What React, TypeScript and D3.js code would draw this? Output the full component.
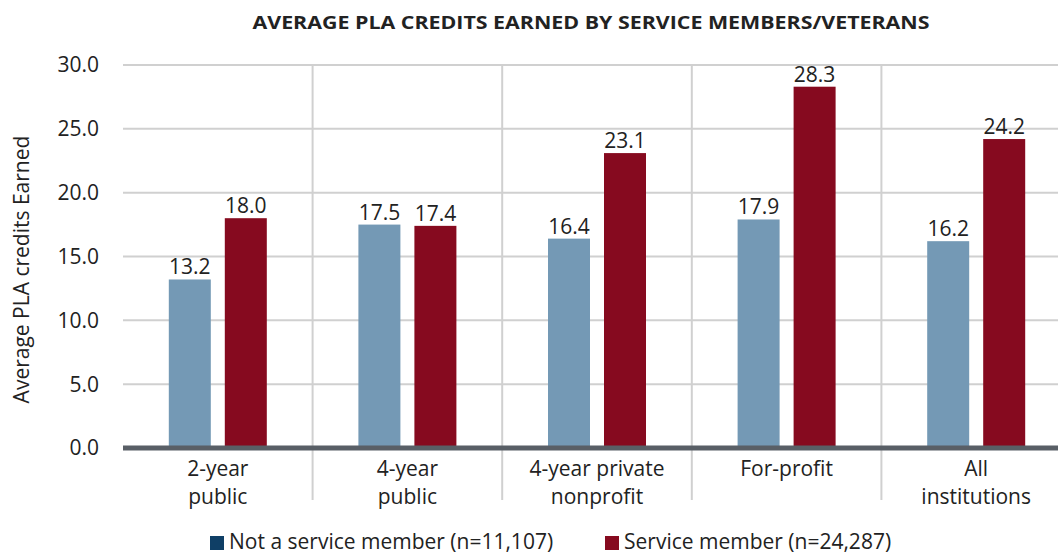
import React from "react";
import * as d3 from "d3";

const categories: string[][] = [
  ["2-year", "public"],
  ["4-year", "public"],
  ["4-year private", "nonprofit"],
  ["For-profit"],
  ["All", "institutions"],
];
const categoryKeys = categories.map((c) => c.join(" "));
const notServiceMember = [13.2, 17.5, 16.4, 17.9, 16.2];
const serviceMember = [18.0, 17.4, 23.1, 28.3, 24.2];
const seriesNames = ["Not a service member (n=11,107)", "Service member (n=24,287)"];
const yTicks = [0, 5, 10, 15, 20, 25, 30];

const W = 1058;
const H = 554;
const FONT = "'Open Sans', 'Noto Sans', sans-serif";
const FS = 21;
const BAR_COLORS = ["#7499b5", "#860a1f"];
const LEGEND_COLORS = ["#0f3f66", "#860a1f"];

export default function App() {
  const left = 123;
  const bandW = 189.6;
  const x = d3
    .scaleBand<string>()
    .domain(categoryKeys)
    .range([left, left + bandW * categoryKeys.length])
    .paddingInner(0)
    .paddingOuter(0);
  const y = d3.scaleLinear().domain([0, 30]).range([448, 65]);
  const barW = 42;
  const gap = 14;

  const series = [notServiceMember, serviceMember];

  return (
    <svg
      width={W}
      height={H}
      style={{ position: "absolute", left: 0, top: 0, background: "#fff" }}
      fontFamily={FONT}
    >
      {/* title */}
      <text
        x={591}
        y={29}
        textAnchor="middle"
        fontSize={18}
        fontWeight={700}
        fill="#222"
        textLength={677}
        lengthAdjust="spacingAndGlyphs"
      >
        AVERAGE PLA CREDITS EARNED BY SERVICE MEMBERS/VETERANS
      </text>

      {/* horizontal gridlines */}
      {yTicks.map((t) => (
        <g key={t}>
          {t > 0 && (
            <line x1={left} x2={W} y1={y(t)} y2={y(t)} stroke="#d0d0d0" strokeWidth={2} />
          )}
          <text
            x={99}
            y={y(t)}
            dy="0.35em"
            textAnchor="end"
            fontSize={FS}
            fill="#222"
          >
            {t.toFixed(1)}
          </text>
        </g>
      ))}

      {/* vertical separators */}
      {categoryKeys.slice(1).map((k) => (
        <line
          key={k}
          x1={x(k)!}
          x2={x(k)!}
          y1={y(30)}
          y2={500}
          stroke="#d0d0d0"
          strokeWidth={2}
        />
      ))}

      {/* bars */}
      {categoryKeys.map((k, i) => {
        const cx = x(k)! + x.bandwidth() / 2;
        return series.map((s, j) => {
          const bx = j === 0 ? cx - gap / 2 - barW : cx + gap / 2;
          const v = s[i];
          return (
            <g key={k + j}>
              <rect
                x={bx}
                y={y(v)}
                width={barW}
                height={y(0) - y(v)}
                fill={BAR_COLORS[j]}
              />
              <text
                x={bx + barW / 2}
                y={y(v) - 5}
                textAnchor="middle"
                fontSize={FS}
                fill="#222"
              >
                {v.toFixed(1)}
              </text>
            </g>
          );
        });
      })}

      {/* axis line */}
      <line x1={left} x2={W} y1={y(0)} y2={y(0)} stroke="#595f66" strokeWidth={5} />

      {/* category labels */}
      {categories.map((lines, i) => {
        const cx = x(categoryKeys[i])! + x.bandwidth() / 2;
        return (
          <text key={i} x={cx} textAnchor="middle" fontSize={FS} fill="#222">
            {lines.map((l, li) => (
              <tspan key={li} x={cx} y={476 + li * 28}>
                {l}
              </tspan>
            ))}
          </text>
        );
      })}

      {/* y axis title */}
      <text
        transform={`translate(29,${(y(0) + y(30)) / 2 + 13}) rotate(-90)`}
        textAnchor="middle"
        fontSize={FS}
        fill="#222"
      >
        Average PLA credits Earned
      </text>

      {/* legend */}
      {seriesNames.map((name, j) => {
        const lx = j === 0 ? 210 : 605;
        return (
          <g key={name}>
            <rect x={lx} y={536} width={14} height={14} fill={LEGEND_COLORS[j]} />
            <text x={lx + 19} y={549} fontSize={FS} fill="#222">
              {name}
            </text>
          </g>
        );
      })}
    </svg>
  );
}
